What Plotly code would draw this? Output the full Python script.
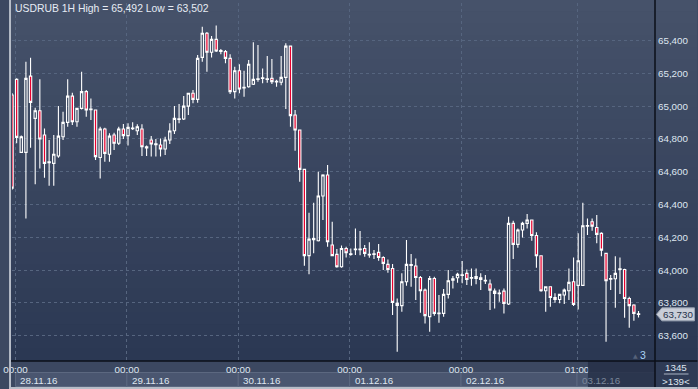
import plotly.graph_objects as go

# ---------------- data (hourly USDRUB candles) ----------------
open_ = [65068, 65163, 64718, 64718, 65183, 64925, 64972, 64824, 64655, 64651,
         64696, 64813, 64901, 65061, 64905, 64986, 65088, 64978, 64976, 64687,
         64860, 64706, 64824, 64773, 64860, 64820, 64862, 64850, 64860, 64745,
         64793, 64765, 64763, 64738, 64793, 64850, 64918, 64921, 65000, 65078,
         65041, 65297, 65444, 65328, 65407, 65334, 65332, 65291, 65088, 65216,
         65110, 65118, 65133, 65163, 65169, 65163, 65169, 65147, 65145, 65175,
         65366, 64946, 64854, 64614, 64088, 64186, 64179, 64452, 64580, 64153,
         64096, 64020, 64132, 64096, 64124, 64124, 64132, 64092, 64096, 64108,
         64077, 64035, 64010, 63797, 63783, 63929, 64029, 64025, 63955, 63878,
         63716, 63949, 63734, 63736, 63852, 63939, 63953, 63968, 63980, 63951,
         63949, 63953, 63933, 63915, 63872, 63856, 63872, 63793, 64285, 64157,
         64244, 64285, 64305, 64211, 64087, 63874, 63898, 63833, 63821, 63848,
         63874, 63929, 63907, 63907, 64268, 64295, 64260, 64224, 64102, 63945,
         63947, 64004, 64004, 63827, 63787, 63734]
high = [65080, 65170, 64820, 65271, 65295, 64990, 65163, 64864, 64793, 64824,
        65000, 64966, 65163, 65082, 64990, 65210, 65098, 65047, 64980, 64874,
        64868, 64834, 64838, 64874, 64891, 64895, 64901, 64889, 64889, 64760,
        64817, 64799, 64803, 64813, 64895, 65000, 65013, 65061, 65082, 65098,
        65312, 65484, 65452, 65427, 65492, 65348, 65342, 65316, 65240, 65255,
        65216, 65281, 65389, 65373, 65230, 65305, 65287, 65160, 65305, 65383,
        65370, 64976, 64858, 64618, 64350, 64411, 64600, 64584, 64641, 64295,
        64128, 64150, 64143, 64132, 64254, 64238, 64153, 64169, 64122, 64159,
        64085, 64065, 64037, 63827, 63980, 64183, 64098, 64071, 63964, 63888,
        63964, 63960, 63848, 63884, 64000, 63964, 63984, 64055, 64004, 64010,
        64010, 63980, 63970, 63943, 63888, 63882, 63888, 64325, 64301, 64254,
        64295, 64342, 64309, 64230, 64090, 63902, 63902, 63858, 63856, 63888,
        64010, 64077, 64224, 64411, 64315, 64315, 64336, 64230, 64106, 63970,
        64085, 64077, 64008, 63837, 63791, 63750]
low = [64490, 64773, 64715, 64315, 64746, 64523, 64620, 64563, 64515, 64515,
       64685, 64793, 64874, 64885, 64874, 64980, 64935, 64915, 64671, 64559,
       64661, 64661, 64732, 64763, 64799, 64759, 64854, 64824, 64696, 64696,
       64692, 64692, 64692, 64702, 64769, 64830, 64895, 64915, 64946, 65017,
       65021, 65271, 65210, 65297, 65330, 65316, 65261, 65074, 65047, 65078,
       65057, 65112, 65128, 65149, 65139, 65143, 65135, 65118, 65127, 64982,
       64874, 64728, 64539, 64027, 63974, 64102, 64175, 64305, 64143, 64085,
       64014, 64014, 64077, 64088, 64092, 64090, 64081, 64075, 64067, 64057,
       64000, 63984, 63726, 63502, 63746, 63905, 63898, 63817, 63740, 63675,
       63624, 63722, 63679, 63716, 63827, 63888, 63923, 63919, 63909, 63905,
       63913, 63878, 63915, 63756, 63766, 63807, 63736, 63787, 64067, 64136,
       64199, 64254, 64179, 64014, 63868, 63746, 63776, 63801, 63797, 63793,
       63817, 63781, 63760, 63905, 64214, 64240, 64163, 64085, 63563, 63878,
       63770, 63854, 63709, 63648, 63691, 63711]
close = [64500, 64809, 64813, 65169, 65023, 64972, 64799, 64651, 64660, 64706,
         64817, 64901, 65061, 64905, 64986, 65088, 64976, 64982, 64692, 64860,
         64712, 64817, 64773, 64860, 64820, 64870, 64866, 64874, 64752, 64752,
         64769, 64770, 64738, 64793, 64848, 64925, 64923, 65000, 65078, 65041,
         65291, 65444, 65328, 65407, 65336, 65338, 65291, 65088, 65216, 65104,
         65114, 65255, 65163, 65167, 65173, 65167, 65149, 65151, 65175, 65366,
         64942, 64854, 64614, 64088, 64189, 64192, 64452, 64580, 64173, 64088,
         64020, 64132, 64106, 64100, 64128, 64128, 64102, 64096, 64100, 64077,
         64041, 64004, 63803, 63785, 63929, 64035, 64033, 63955, 63874, 63722,
         63949, 63736, 63738, 63852, 63935, 63947, 63974, 63972, 63943, 63955,
         63960, 63943, 63937, 63878, 63858, 63860, 63797, 64285, 64157, 64244,
         64285, 64305, 64211, 64087, 63874, 63898, 63833, 63821, 63852, 63878,
         63925, 63791, 64057, 64270, 64272, 64268, 64218, 64122, 63935, 63949,
         63980, 64008, 63827, 63783, 63736, 63730]
bars = list(range(len(close)))

price_ticks = [63600, 63800, 64000, 64200, 64400, 64600, 64800, 65000, 65200, 65400]
day_start_bars = [1, 25, 49, 73, 97, 122]
time_labels = ["00:00", "00:00", "00:00", "00:00", "00:00", "01:00"]
date_labels = ["28.11.16", "29.11.16", "30.11.16", "01.12.16", "02.12.16", "03.12.16"]
title_text = "USDRUB 1H High = 65,492 Low = 63,502"
last_price_text = "63,730"
bars_count_text = "1345"
visible_text = ">139<"
corner_text = "3"

# ---------------- styling ----------------
W, H = 698, 389
ML, MR, MT, MB = 3, 43, 3, 28
PW, PH = W - ML - MR, H - MT - MB
FONT = "Liberation Sans"
TXT = "#dfe6f0"
FS = 9.8

def px_x(px):
    return (px - ML) / PW

def px_y(py):
    return (H - MB - py) / PH

fig = go.Figure()
fig.add_trace(go.Candlestick(
    x=bars, open=open_, high=high, low=low, close=close,
    increasing=dict(line=dict(color="#ffffff", width=1.1), fillcolor="rgba(0,0,0,0)"),
    decreasing=dict(line=dict(color="#ffffff", width=1.1), fillcolor="#e8002e"),
    whiskerwidth=0, hoverinfo="skip", showlegend=False,
))

shapes = []
# vertical gradient background (plot + right axis strip)
top_c = (0x46, 0x52, 0x6a)
bot_c = (0x2b, 0x38, 0x53)
N = 30
y_top_p, y_bot_p = px_y(0), px_y(H - MB)
for k in range(N):
    t = (k + 0.5) / N
    c = tuple(int(round(top_c[j] + (bot_c[j] - top_c[j]) * t)) for j in range(3))
    y1 = y_top_p + (y_bot_p - y_top_p) * k / N
    y0 = y_top_p + (y_bot_p - y_top_p) * (k + 1) / N
    shapes.append(dict(type="rect", xref="paper", yref="paper", x0=px_x(0), x1=px_x(W),
                       y0=y0, y1=y1 + 0.002, fillcolor="rgb(%d,%d,%d)" % c,
                       line=dict(width=0), layer="below"))
# bottom strip
shapes.append(dict(type="rect", xref="paper", yref="paper", x0=px_x(0), x1=px_x(W),
                   y0=px_y(H), y1=px_y(H - MB), fillcolor="#3c4861",
                   line=dict(width=0), layer="below"))
# date boxes
box_edges = [b - 0.25 for b in day_start_bars] + [bars[-1] + 3.5]
for k in range(len(date_labels)):
    shapes.append(dict(type="rect", xref="x", yref="paper",
                       x0=box_edges[k], x1=box_edges[k + 1],
                       y0=px_y(386.5), y1=px_y(372.5),
                       fillcolor="#4a5670", line=dict(color="#5c6880", width=1), layer="below"))
# dim overlay at the end of the date strip
shapes.append(dict(type="rect", xref="paper", yref="paper", x0=px_x(587), x1=1,
                   y0=px_y(H), y1=px_y(H - MB), fillcolor="rgba(38,48,72,0.85)",
                   line=dict(width=0), layer="above"))
# right cell
shapes.append(dict(type="rect", xref="paper", yref="paper", x0=1, x1=px_x(W),
                   y0=px_y(H), y1=px_y(H - MB), fillcolor="#2f3b55",
                   line=dict(width=0), layer="above"))
shapes.append(dict(type="line", xref="paper", yref="paper", x0=px_x(664), x1=px_x(689),
                   y0=px_y(374), y1=px_y(374), line=dict(color="#aab4c4", width=1)))
# separators
shapes.append(dict(type="line", xref="paper", yref="paper", x0=1, x1=1,
                   y0=px_y(H), y1=px_y(0), line=dict(color="#0b0f18", width=1.5), layer="above"))
shapes.append(dict(type="line", xref="paper", yref="paper", x0=px_x(0), x1=px_x(W),
                   y0=0, y1=0, line=dict(color="#0b0f18", width=1.5), layer="above"))
# frame
shapes.append(dict(type="rect", xref="paper", yref="paper", x0=px_x(0), x1=px_x(2),
                   y0=px_y(H), y1=px_y(0), fillcolor="#b7bdc8", line=dict(width=0), layer="above"))
shapes.append(dict(type="rect", xref="paper", yref="paper", x0=px_x(0), x1=px_x(W),
                   y0=px_y(H), y1=px_y(H - 2), fillcolor="#b7bdc8", line=dict(width=0), layer="above"))
# last price tag
lp = close[-1]
hh = 6.5 * (65628.7 - 63445.6) / PH
shapes.append(dict(type="path", xref="paper", yref="y",
                   path="M %f,%f L %f,%f L %f,%f L %f,%f L %f,%f Z" % (
                       px_x(656.5), lp, px_x(662), lp + hh, px_x(695), lp + hh,
                       px_x(695), lp - hh, px_x(662), lp - hh),
                   fillcolor="#c9ced8", line=dict(color="#9aa3b2", width=1), layer="above"))

annotations = [
    dict(text=title_text, xref="paper", yref="paper", x=px_x(4), y=px_y(8.5),
         xanchor="left", yanchor="middle", showarrow=False,
         font=dict(family=FONT, size=10.4, color="#e6ecf4")),
    dict(text=last_price_text, xref="paper", yref="y", x=px_x(678.5), y=lp,
         xanchor="center", yanchor="middle", showarrow=False,
         font=dict(family=FONT, size=FS, color="#26314a")),
    dict(text=bars_count_text, xref="paper", yref="paper", x=px_x(676.5), y=px_y(367),
         xanchor="center", yanchor="middle", showarrow=False,
         font=dict(family=FONT, size=FS, color=TXT)),
    dict(text=visible_text, xref="paper", yref="paper", x=px_x(676.5), y=px_y(381),
         xanchor="center", yanchor="middle", showarrow=False,
         font=dict(family=FONT, size=FS, color=TXT)),
    dict(text=corner_text, xref="paper", yref="paper", x=px_x(643), y=px_y(354.5),
         xanchor="center", yanchor="middle", showarrow=False,
         font=dict(family=FONT, size=10.5, color="#a9d2f7")),
    dict(text="\u25b2", xref="paper", yref="paper", x=px_x(635), y=px_y(355),
         xanchor="center", yanchor="middle", showarrow=False,
         font=dict(family="DejaVu Sans", size=6, color="#56627a")),
]
for k, lab in enumerate(date_labels):
    annotations.append(dict(text=lab, xref="x", yref="paper", x=box_edges[k], y=px_y(380),
                            xanchor="left", yanchor="middle", xshift=3, showarrow=False,
                            font=dict(family=FONT, size=FS,
                                      color=TXT if k < len(date_labels) - 1 else "#7c889c")))

fig.update_layout(
    width=W, height=H,
    margin=dict(l=ML, r=MR, t=MT, b=MB, pad=0),
    paper_bgcolor="#3c4861", plot_bgcolor="rgba(0,0,0,0)",
    showlegend=False, hovermode=False, boxgap=0.28,
    shapes=shapes, annotations=annotations,
    font=dict(family=FONT, size=FS, color=TXT),
)
fig.update_xaxes(
    range=[0, 138.55], rangeslider=dict(visible=False),
    tickmode="array", tickvals=[b - 0.25 for b in day_start_bars], ticktext=time_labels,
    showgrid=True, gridcolor="#56657f", griddash="3px,3px", gridwidth=1,
    zeroline=False, showline=False, ticks="", ticklabelstandoff=1,
    ticklabeloverflow="allow",
    tickfont=dict(family=FONT, size=FS, color=TXT), fixedrange=True,
)
fig.update_yaxes(
    range=[63445.6, 65628.7], side="right",
    tickmode="array", tickvals=price_ticks, ticktext=["{:,}".format(v) for v in price_ticks],
    showgrid=True, gridcolor="#56657f", griddash="3px,3px", gridwidth=1,
    zeroline=False, showline=False, ticks="", ticklabelstandoff=2,
    tickfont=dict(family=FONT, size=FS, color=TXT), fixedrange=True,
)

fig.write_html("out.html", config={"displayModeBar": False},
               post_script="document.body.style.margin='0';document.body.style.overflow='hidden';")
